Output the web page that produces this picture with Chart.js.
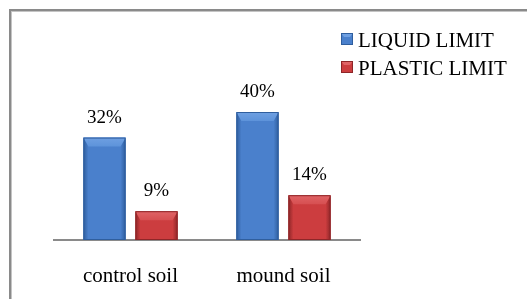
<!DOCTYPE html>
<html>
<head>
<meta charset="utf-8">
<script src="https://cdn.jsdelivr.net/npm/chart.js@4/dist/chart.umd.min.js"></script>
<style>
  html, body { margin: 0; padding: 0; background: #fff; }
  #wrap { position: relative; width: 527px; height: 299px; overflow: hidden; }
  #frame { position: absolute; left: 9px; top: 9px; width: 620px; height: 400px;
           border: 2px solid #8a8a8a; box-shadow: inset 1px 1px 0 #c4c4c4; }
  canvas { position: absolute; left: 0; top: 0; }
</style>
</head>
<body>
<div id="wrap">
  <div id="frame"></div>
  <canvas id="c" width="527" height="299"></canvas>
</div>
<script>
const categories = ["control soil", "mound soil"];
const seriesNames = ["LIQUID LIMIT", "PLASTIC LIMIT"];
const liquidLimit = [32, 40];
const plasticLimit = [9, 14];
const yMin = 0;
const yMax = 60;

const palette = [
  { main: "#4a80cc", dark: "#2f5e9e", light: "#6fa0e2", top: "#5d93da" },
  { main: "#cc3d3f", dark: "#8e2628", light: "#e06466", top: "#d64f51" }
];

const serif = "'Liberation Serif', 'Times New Roman', serif";

const bevelPlugin = {
  id: "bevel",
  afterDatasetsDraw(chart) {
    const ctx = chart.ctx;
    chart.data.datasets.forEach((ds, di) => {
      const meta = chart.getDatasetMeta(di);
      const col = palette[di];
      meta.data.forEach((bar, idx) => {
        const p = bar.getProps(["x", "y", "base", "width"], true);
        const l = p.x - p.width / 2, r = p.x + p.width / 2, t = p.y, b = p.base;
        const s = 5, tb = 9;
        ctx.save();
        let g = ctx.createLinearGradient(l, 0, l + s, 0);
        g.addColorStop(0, col.dark); g.addColorStop(1, col.main);
        ctx.fillStyle = g;
        ctx.beginPath(); ctx.moveTo(l, t); ctx.lineTo(l + s, t + tb); ctx.lineTo(l + s, b); ctx.lineTo(l, b); ctx.closePath(); ctx.fill();
        g = ctx.createLinearGradient(r, 0, r - s, 0);
        g.addColorStop(0, col.dark); g.addColorStop(1, col.main);
        ctx.fillStyle = g;
        ctx.beginPath(); ctx.moveTo(r, t); ctx.lineTo(r - s, t + tb); ctx.lineTo(r - s, b); ctx.lineTo(r, b); ctx.closePath(); ctx.fill();
        g = ctx.createLinearGradient(0, t, 0, t + tb);
        g.addColorStop(0, col.light); g.addColorStop(1, col.top);
        ctx.fillStyle = g;
        ctx.beginPath(); ctx.moveTo(l, t); ctx.lineTo(r, t); ctx.lineTo(r - s, t + tb); ctx.lineTo(l + s, t + tb); ctx.closePath(); ctx.fill();
        ctx.strokeStyle = col.dark; ctx.lineWidth = 1;
        ctx.strokeRect(l + 0.5, t + 0.5, p.width - 1, b - t - 1);
        ctx.fillStyle = "#000";
        ctx.font = "19px " + serif;
        ctx.textAlign = "center";
        ctx.textBaseline = "alphabetic";
        ctx.fillText(ds.data[idx] + "%", p.x, t - 15);
        ctx.restore();
      });
    });
  }
};

const legendPlugin = {
  id: "customLegend",
  afterDraw(chart) {
    const ctx = chart.ctx;
    const x0 = 341, y0 = 33, size = 12, rowH = 28;
    chart.data.datasets.forEach((ds, di) => {
      const col = palette[di];
      const y = y0 + di * rowH;
      ctx.save();
      ctx.fillStyle = col.main;
      ctx.fillRect(x0, y, size, size);
      ctx.fillStyle = col.light;
      ctx.beginPath(); ctx.moveTo(x0, y); ctx.lineTo(x0 + size, y); ctx.lineTo(x0 + size - 3, y + 4); ctx.lineTo(x0 + 3, y + 4); ctx.closePath(); ctx.fill();
      ctx.strokeStyle = col.dark; ctx.lineWidth = 1;
      ctx.strokeRect(x0 + 0.5, y + 0.5, size - 1, size - 1);
      ctx.fillStyle = "#000";
      ctx.font = "21px " + serif;
      ctx.textAlign = "left";
      ctx.textBaseline = "alphabetic";
      ctx.fillText(ds.label, x0 + 17, y + 14);
      ctx.restore();
    });
  }
};

new Chart(document.getElementById("c"), {
  type: "bar",
  data: {
    labels: categories,
    datasets: [
      { label: seriesNames[0], data: liquidLimit, backgroundColor: palette[0].main, borderWidth: 0 },
      { label: seriesNames[1], data: plasticLimit, backgroundColor: palette[1].main, borderWidth: 0 }
    ]
  },
  options: {
    responsive: false,
    animation: false,
    devicePixelRatio: 1,
    layout: { padding: { left: 54, right: 167, top: 48, bottom: 0 } },
    plugins: { legend: { display: false }, tooltip: { enabled: false } },
    datasets: { bar: { categoryPercentage: 0.68, barPercentage: 0.81 } },
    scales: {
      x: {
        grid: { display: false, drawTicks: false },
        border: { display: true, color: "#8a8a8a", width: 2 },
        ticks: { color: "#000", font: { family: serif, size: 21 }, padding: 24, maxRotation: 0 },
        afterFit(scale) { scale.height = 59; }
      },
      y: { display: false, min: yMin, max: yMax }
    }
  },
  plugins: [bevelPlugin, legendPlugin]
});
</script>
</body>
</html>
